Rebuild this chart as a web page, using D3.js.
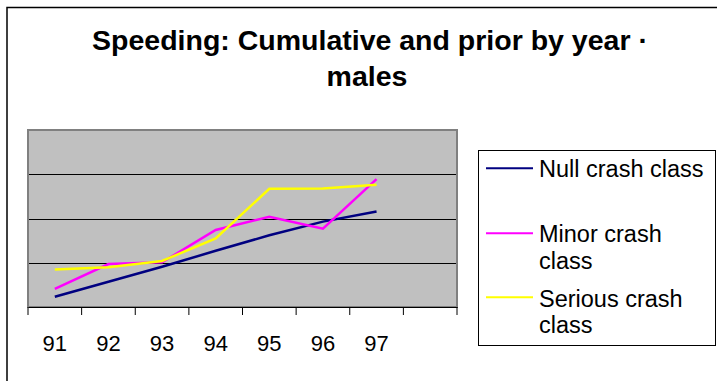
<!DOCTYPE html>
<html>
<head>
<meta charset="utf-8">
<script src="https://cdn.jsdelivr.net/npm/d3@7"></script>
<style>
  html, body { margin: 0; padding: 0; background: #fff; }
  svg { display: block; }
  text { font-family: "Liberation Sans", Arial, sans-serif; }
</style>
</head>
<body>
<svg id="chart" width="717" height="381"></svg>
<script>
// ---- data ----
const categories = ["91", "92", "93", "94", "95", "96", "97", ""];
const nullCrash    = [0.23, 0.57, 0.91, 1.27, 1.62, 1.93, 2.16];
const minorCrash   = [0.41, 0.97, 1.01, 1.74, 2.04, 1.77, 2.89];
const seriousCrash = [0.85, 0.90, 1.04, 1.55, 2.67, 2.68, 2.76];
const seriesNames  = ["Null crash class", "Minor crash class", "Serious crash class"];
const legendLines  = [["Null crash class"], ["Minor crash", "class"], ["Serious crash", "class"]];
const seriesColors = ["#000080", "#FF00FF", "#FFFF00"];
const yTicks = [1, 2, 3];
const titleLines = ["Speeding: Cumulative and prior by year \u00b7", "males"];

const series = [nullCrash, minorCrash, seriousCrash];

// ---- layout ----
const svg = d3.select("#chart");
const plot = { left: 28, right: 457, top: 130, bottom: 307 };

// outer chart border
svg.append("rect")
  .attr("x", 7).attr("y", 7.5).attr("width", 800).attr("height", 500)
  .attr("fill", "none").attr("stroke", "#000").attr("stroke-width", 1.5);

// title
svg.append("text").attr("x", 370).attr("y", 49.5)
  .attr("text-anchor", "middle").attr("font-size", 28.5).attr("font-weight", "bold")
  .text(titleLines[0]);
svg.append("text").attr("x", 367).attr("y", 86)
  .attr("text-anchor", "middle").attr("font-size", 28.5).attr("font-weight", "bold")
  .text(titleLines[1]);

const x = d3.scaleBand().domain(categories).range([plot.left, plot.right]).padding(0);
const y = d3.scaleLinear().domain([0, 4]).range([plot.bottom, plot.top]);

// plot background
svg.append("rect")
  .attr("x", plot.left).attr("y", plot.top)
  .attr("width", plot.right - plot.left).attr("height", plot.bottom - plot.top)
  .attr("fill", "#C0C0C0");

// gridlines
svg.append("g").selectAll("line").data(yTicks).join("line")
  .attr("x1", plot.left).attr("x2", plot.right)
  .attr("y1", d => Math.round(y(d)) + 0.5).attr("y2", d => Math.round(y(d)) + 0.5)
  .attr("stroke", "#000").attr("stroke-width", 1);

// plot border
svg.append("rect")
  .attr("x", plot.left).attr("y", plot.top)
  .attr("width", plot.right - plot.left).attr("height", plot.bottom - plot.top)
  .attr("fill", "none").attr("stroke", "#808080").attr("stroke-width", 2);

// x axis
const xAxis = svg.append("g").attr("transform", `translate(0,${plot.bottom})`)
  .call(d3.axisBottom(x).tickSize(0).tickPadding(0));
xAxis.select(".domain").attr("stroke", "#000").attr("stroke-width", 1.2);
xAxis.selectAll("text")
  .attr("y", 44).attr("dy", 0)
  .attr("font-size", 22).attr("fill", "#000")
  .style("font-family", '"Liberation Sans", Arial, sans-serif');
// tick marks at category boundaries
const bounds = categories.map(c => x(c)).concat([x(categories[categories.length - 1]) + x.bandwidth()]);
xAxis.selectAll(".bound").data(bounds).join("line").attr("class", "bound")
  .attr("x1", d => d).attr("x2", d => d)
  .attr("y1", 0).attr("y2", 8)
  .attr("stroke", "#000").attr("stroke-width", 1);

// lines
const line = d3.line()
  .x((d, i) => x(categories[i]) + x.bandwidth() / 2)
  .y(d => y(d));
svg.append("g").selectAll("path").data(series).join("path")
  .attr("d", d => line(d))
  .attr("fill", "none")
  .attr("stroke", (d, i) => seriesColors[i])
  .attr("stroke-width", 2.5)
  .attr("stroke-linejoin", "miter");

// legend
svg.append("rect")
  .attr("x", 478.5).attr("y", 150.5).attr("width", 237).attr("height", 195)
  .attr("fill", "#fff").attr("stroke", "#000").attr("stroke-width", 1);
const legendLineY = [168.3, 233.3, 297.3];
const legendTextY = [176.7, 242.3, 306.7];
const lg = svg.append("g").selectAll("g").data(seriesNames).join("g");
lg.append("line")
  .attr("x1", 486).attr("x2", 533)
  .attr("y1", (d, i) => legendLineY[i]).attr("y2", (d, i) => legendLineY[i])
  .attr("stroke", (d, i) => seriesColors[i]).attr("stroke-width", 2);
lg.append("text")
  .attr("x", 539).attr("y", (d, i) => legendTextY[i])
  .attr("font-size", 23.5).attr("fill", "#000")
  .selectAll("tspan").data((d, i) => legendLines[i]).join("tspan")
  .attr("x", 539).attr("dy", (d, j) => j === 0 ? 0 : 26.7)
  .text(d => d);
</script>
</body>
</html>
